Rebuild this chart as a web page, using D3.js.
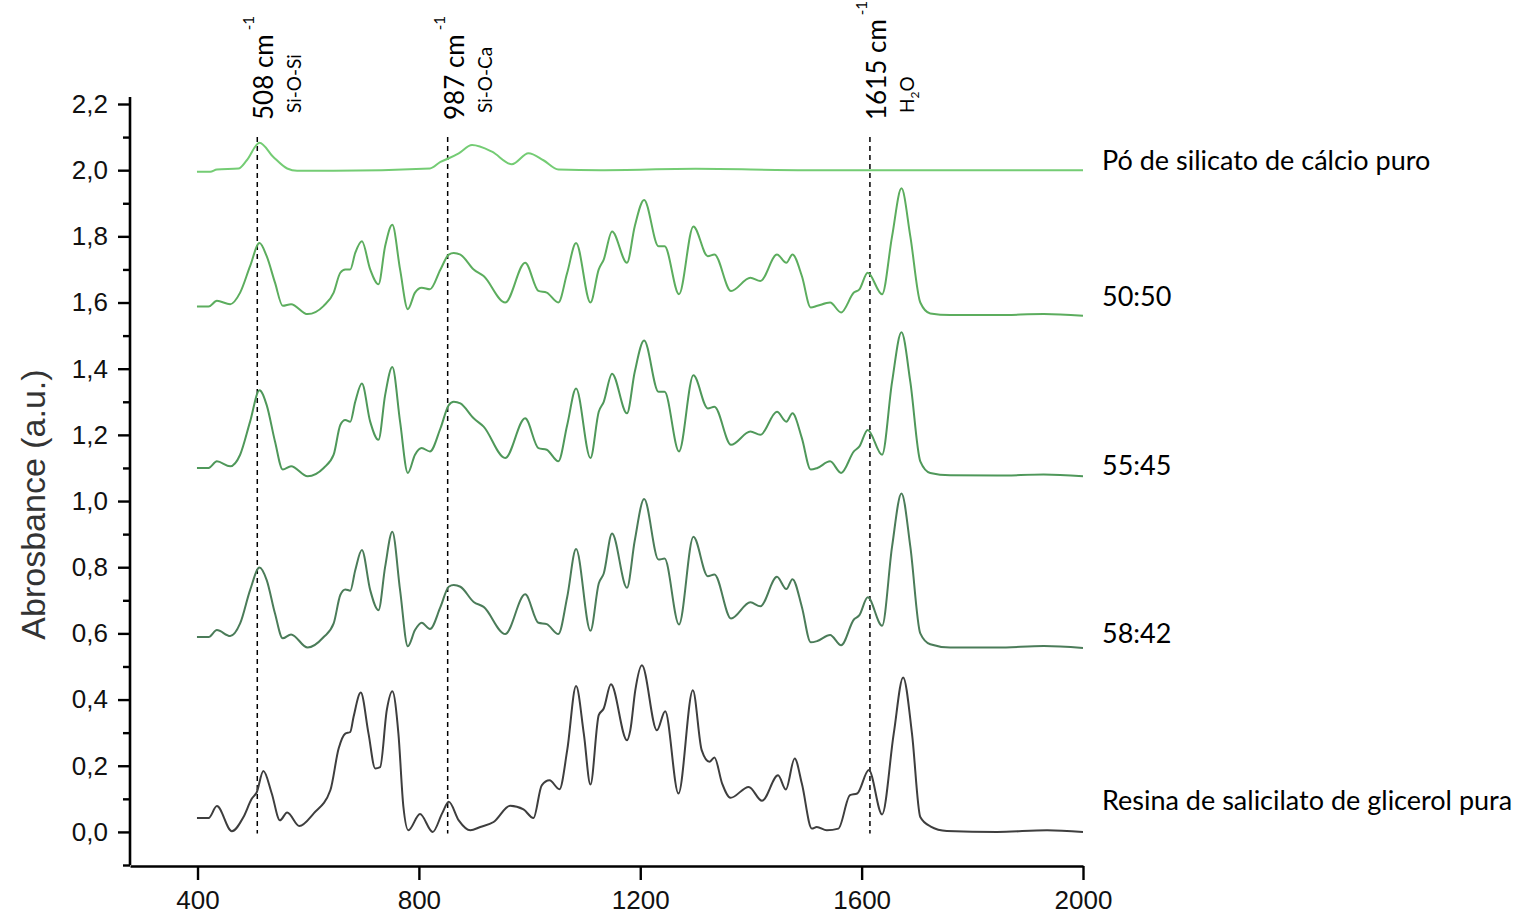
<!DOCTYPE html>
<html>
<head>
<meta charset="utf-8">
<script src="https://cdn.jsdelivr.net/npm/d3@7"></script>
<style>
  body { margin: 0; background: #fff; }
  svg { display: block; }
</style>
</head>
<body>
<svg id="drawing_region"></svg>
<script>
// wavenumber (cm-1) and absorbance
const resinWn = [399,420,435,462,483,498,507,519,534,549,562,584,610,640,655,667,676,682,695,709,721,730,742,752,763,772,781,802,825,842,854,872,893,911,935,965,989,1007,1022,1036,1054,1068,1084,1098,1110,1125,1134,1147,1176,1182,1191,1203,1230,1245,1269,1295,1311,1325,1334,1348,1363,1396,1420,1449,1463,1479,1492,1510,1519,1537,1558,1579,1592,1613,1637,1658,1675,1691,1706,1724,1754,1845,1935,2000];
const resinAbs = [0.042,0.042,0.078,0.002,0.045,0.10,0.12,0.184,0.117,0.035,0.059,0.018,0.056,0.126,0.252,0.297,0.302,0.348,0.421,0.297,0.192,0.196,0.368,0.425,0.297,0.076,0.005,0.054,0.0,0.056,0.091,0.035,0.005,0.015,0.03,0.079,0.068,0.042,0.141,0.156,0.129,0.247,0.441,0.297,0.143,0.353,0.373,0.446,0.277,0.307,0.428,0.504,0.307,0.365,0.116,0.428,0.247,0.212,0.225,0.146,0.103,0.136,0.094,0.171,0.128,0.222,0.146,0.01,0.015,0.005,0.010,0.111,0.116,0.187,0.053,0.297,0.467,0.297,0.045,0.017,0.003,0.0,0.005,0.0];

const mixWn = [399,420,435,459,477,495,512,525,540,554,569,599,628,646,658,667,676,685,697,712,727,739,752,766,780,793,805,820,839,854,863,875,899,917,956,992,1016,1031,1052,1068,1084,1110,1125,1134,1149,1176,1190,1207,1233,1244,1270,1296,1322,1334,1364,1399,1417,1447,1464,1475,1492,1508,1520,1543,1563,1586,1596,1611,1637,1655,1672,1688,1706,1724,1760,1845,1929,2000];
const mix5842 = [0.589,0.589,0.610,0.592,0.630,0.731,0.799,0.761,0.660,0.585,0.597,0.557,0.589,0.630,0.716,0.733,0.729,0.791,0.852,0.731,0.670,0.801,0.907,0.731,0.561,0.610,0.632,0.613,0.680,0.741,0.746,0.741,0.695,0.680,0.598,0.718,0.632,0.628,0.598,0.710,0.855,0.608,0.751,0.781,0.902,0.738,0.88,1.006,0.823,0.826,0.627,0.892,0.773,0.778,0.645,0.694,0.682,0.771,0.734,0.764,0.680,0.573,0.577,0.595,0.564,0.642,0.655,0.709,0.623,0.862,1.023,0.862,0.600,0.567,0.557,0.557,0.562,0.556];
const mix5545 = [1.10,1.10,1.12,1.105,1.14,1.24,1.335,1.29,1.18,1.095,1.105,1.075,1.10,1.14,1.23,1.245,1.24,1.30,1.355,1.24,1.185,1.32,1.405,1.24,1.085,1.14,1.16,1.15,1.22,1.29,1.30,1.295,1.25,1.225,1.13,1.25,1.16,1.155,1.12,1.23,1.34,1.13,1.27,1.30,1.385,1.265,1.39,1.485,1.33,1.33,1.15,1.38,1.28,1.285,1.17,1.21,1.20,1.27,1.24,1.265,1.19,1.095,1.10,1.12,1.085,1.15,1.165,1.215,1.14,1.36,1.51,1.36,1.12,1.085,1.078,1.077,1.08,1.075];
const mix5050 = [1.588,1.588,1.605,1.595,1.63,1.71,1.78,1.74,1.66,1.59,1.595,1.565,1.59,1.63,1.69,1.70,1.70,1.75,1.785,1.70,1.655,1.77,1.835,1.70,1.58,1.63,1.645,1.64,1.70,1.745,1.75,1.745,1.70,1.68,1.60,1.72,1.635,1.63,1.60,1.69,1.78,1.60,1.70,1.73,1.815,1.72,1.83,1.91,1.77,1.77,1.625,1.83,1.74,1.745,1.635,1.675,1.665,1.745,1.72,1.745,1.68,1.585,1.59,1.60,1.57,1.63,1.64,1.69,1.625,1.80,1.945,1.80,1.60,1.567,1.562,1.562,1.565,1.56];

const powderWn = [399,423,435,474,489,512,537,562,580,646,820,839,854,872,896,932,968,998,1025,1052,1128,1300,1500,1700,2000];
const powderAbs = [1.995,1.995,2.002,2.005,2.03,2.083,2.04,2.005,1.998,1.998,2.005,2.025,2.036,2.051,2.076,2.056,2.018,2.051,2.03,2.002,2.0,2.004,2.0,2.0,2.0];

const seriesNames = ["Pó de silicato de cálcio puro", "50:50", "55:45", "58:42", "Resina de salicilato de glicerol pura"];

const markerPos = [508, 852, 1615];
const markerLabel = ["508 cm", "987 cm", "1615 cm"];
const markerBond = ["Si-O-Si", "Si-O-Ca", "H2O"];

const xTicks = [400, 800, 1200, 1600, 2000];
const yTicks = [0, 0.2, 0.4, 0.6, 0.8, 1.0, 1.2, 1.4, 1.6, 1.8, 2.0, 2.2];
const yMinorTicks = [-0.1, 0.1, 0.3, 0.5, 0.7, 0.9, 1.1, 1.3, 1.5, 1.7, 1.9, 2.1];

const config = {
    width: 1524,
    height: 919,
    left: 130,
    right: 1083,
    top: 104,
    bottom: 865
};

const colors = ["#74cc74", "#5cad5e", "#4f985a", "#4b7c59", "#3e3e3e"];
const labelBaseline = [170, 306, 475, 643, 810];

const series = [
    { wn: powderWn, abs: powderAbs },
    { wn: mixWn, abs: mix5050 },
    { wn: mixWn, abs: mix5545 },
    { wn: mixWn, abs: mix5842 },
    { wn: resinWn, abs: resinAbs }
].map((s, i) => ({
    name: seriesNames[i],
    points: s.wn.map((w, j) => ({ x: w, y: s.abs[j] }))
}));

const svg = d3.select('#drawing_region')
    .attr('width', config.width)
    .attr('height', config.height);

const x = d3.scaleLinear().domain([278, 2000]).range([config.left, config.right]);
const y = d3.scaleLinear().domain([-0.1, 2.2]).range([config.bottom, config.top]);

const fmt = v => d3.format('.1f')(v).replace('.', ',');

// axes
const yAxis = svg.append('g')
    .attr('transform', `translate(${config.left},0)`)
    .call(d3.axisLeft(y).tickValues(yTicks).tickFormat(fmt).tickSize(12).tickSizeOuter(0).tickPadding(10));
svg.append('g')
    .attr('transform', `translate(${config.left},0)`)
    .call(d3.axisLeft(y).tickValues(yMinorTicks).tickFormat('').tickSize(7).tickSizeOuter(0))
    .select('.domain').remove();

const xAxis = svg.append('g')
    .attr('transform', `translate(0,${config.bottom + 1})`)
    .call(d3.axisBottom(x).tickValues(xTicks).tickFormat(d3.format('d')).tickSize(14).tickSizeOuter(0).tickPadding(11));

svg.selectAll('.domain').attr('stroke', '#000').attr('stroke-width', 2.6);
svg.selectAll('.tick line').attr('stroke', '#000').attr('stroke-width', 2.4);
svg.selectAll('.tick text')
    .attr('fill', '#111')
    .style('font-family', '"Liberation Sans", Arial, sans-serif')
    .style('font-size', '26px');
yAxis.select('.domain').attr('d', `M0,${config.bottom}V${config.top - 7}`);

svg.append('text')
    .attr('transform', `translate(45,${(config.top + config.bottom) / 2 + 20}) rotate(-90)`)
    .attr('text-anchor', 'middle')
    .attr('fill', '#333')
    .style('font-family', '"Liberation Sans", Arial, sans-serif')
    .style('font-size', '34px')
    .text('Abrosbance (a.u.)');

// marker lines
svg.selectAll('.marker')
    .data(markerPos)
    .enter()
    .append('line')
    .attr('x1', d => x(d)).attr('x2', d => x(d))
    .attr('y1', y(2.1)).attr('y2', y(-0.005))
    .attr('stroke', '#000')
    .attr('stroke-width', 1.5)
    .attr('stroke-dasharray', '5,4');

const markerText = svg.selectAll('.mlabel')
    .data(markerPos)
    .enter()
    .append('text')
    .attr('transform', d => `translate(${x(d) + 16},120) rotate(-90)`)
    .attr('fill', '#000')
    .style('font-family', 'Lato, "Noto Sans", sans-serif')
    .style('font-size', '26px');
markerText.append('tspan').text((d, i) => markerLabel[i]);
markerText.append('tspan')
    .attr('dx', 4).attr('dy', -19)
    .style('font-size', '15px')
    .text('-1');

const bondText = svg.selectAll('.blabel')
    .data(markerPos)
    .enter()
    .append('text')
    .attr('transform', d => `translate(${x(d) + 44},113) rotate(-90)`)
    .attr('fill', '#000')
    .style('font-family', 'Lato, "Noto Sans", sans-serif')
    .style('font-size', '19px');
bondText.each(function(d, i) {
    const t = d3.select(this);
    if (markerBond[i] === 'H2O') {
        t.append('tspan').text('H');
        t.append('tspan').attr('dy', 5).style('font-size', '12px').text('2');
        t.append('tspan').attr('dy', -5).text('O');
    } else {
        t.text(markerBond[i]);
    }
});

// spectra
const line = d3.line()
    .x(d => x(d.x))
    .y(d => y(d.y))
    .curve(d3.curveMonotoneX);

svg.selectAll('.spectrum')
    .data(series)
    .enter()
    .append('path')
    .attr('d', d => line(d.points))
    .attr('fill', 'none')
    .attr('stroke', (d, i) => colors[i])
    .attr('stroke-width', 2)
    .attr('stroke-linejoin', 'round');

svg.selectAll('.slabel')
    .data(series)
    .enter()
    .append('text')
    .attr('x', 1102)
    .attr('y', (d, i) => labelBaseline[i])
    .attr('fill', '#000')
    .style('font-family', 'Lato, "Noto Sans", sans-serif')
    .style('font-size', '27px')
    .text(d => d.name);
</script>
</body>
</html>
